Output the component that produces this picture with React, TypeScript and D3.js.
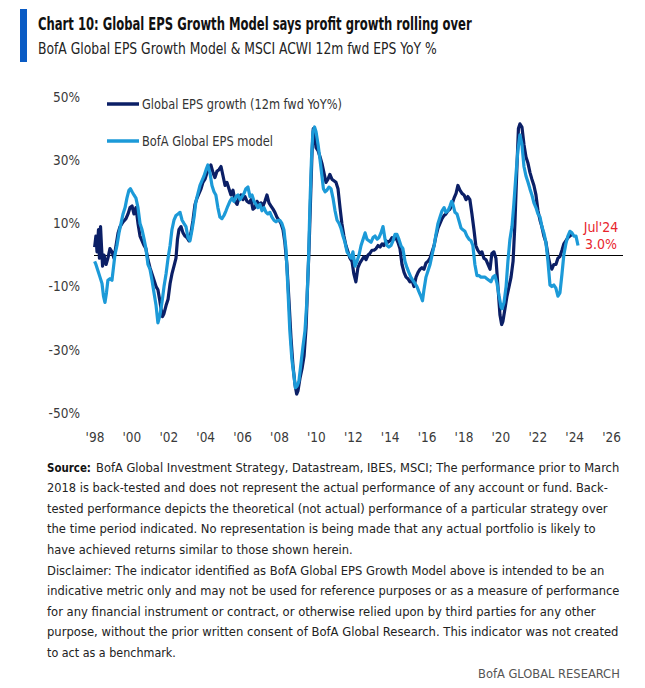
import React, { useLayoutEffect, useRef, useState } from "react";
import * as d3 from "d3";

// ---- Data ----
const epsYears = [1997.98,1998.05,1998.11,1998.19,1998.24,1998.30,1998.35,1998.41,1998.49,1998.60,1998.70,1998.81,1998.92,1999.03,1999.14,1999.25,1999.36,1999.52,1999.68,1999.79,1999.90,2000.01,2000.11,2000.22,2000.33,2000.44,2000.55,2000.66,2000.76,2000.87,2000.98,2001.09,2001.20,2001.31,2001.41,2001.50,2001.58,2001.66,2001.74,2001.85,2001.96,2002.07,2002.17,2002.28,2002.39,2002.47,2002.55,2002.66,2002.77,2002.88,2002.99,2003.09,2003.20,2003.31,2003.42,2003.53,2003.64,2003.75,2003.85,2003.96,2004.07,2004.18,2004.28,2004.40,2004.50,2004.61,2004.72,2004.83,2004.94,2005.05,2005.15,2005.26,2005.37,2005.48,2005.59,2005.70,2005.80,2005.91,2006.02,2006.13,2006.24,2006.35,2006.46,2006.56,2006.67,2006.78,2006.89,2007.00,2007.11,2007.21,2007.32,2007.43,2007.54,2007.65,2007.75,2007.86,2007.97,2008.08,2008.19,2008.29,2008.40,2008.51,2008.62,2008.73,2008.84,2008.93,2009.00,2009.11,2009.22,2009.33,2009.44,2009.52,2009.60,2009.68,2009.76,2009.83,2009.90,2009.98,2010.09,2010.20,2010.30,2010.41,2010.52,2010.63,2010.73,2010.84,2010.95,2011.06,2011.17,2011.28,2011.38,2011.49,2011.60,2011.71,2011.82,2011.93,2012.03,2012.14,2012.25,2012.36,2012.47,2012.58,2012.69,2012.80,2012.90,2013.01,2013.12,2013.23,2013.34,2013.45,2013.56,2013.66,2013.77,2013.88,2013.99,2014.10,2014.20,2014.31,2014.42,2014.53,2014.64,2014.75,2014.86,2014.96,2015.07,2015.18,2015.29,2015.40,2015.51,2015.62,2015.72,2015.83,2015.94,2016.05,2016.16,2016.27,2016.38,2016.48,2016.59,2016.70,2016.81,2016.92,2017.02,2017.13,2017.24,2017.35,2017.46,2017.57,2017.67,2017.78,2017.89,2018.00,2018.11,2018.21,2018.32,2018.43,2018.54,2018.64,2018.75,2018.86,2018.97,2019.08,2019.19,2019.30,2019.41,2019.51,2019.62,2019.73,2019.84,2019.95,2020.04,2020.11,2020.22,2020.33,2020.44,2020.55,2020.66,2020.76,2020.87,2020.95,2021.03,2021.14,2021.25,2021.36,2021.47,2021.58,2021.68,2021.79,2021.90,2022.01,2022.12,2022.22,2022.33,2022.44,2022.55,2022.66,2022.76,2022.87,2022.98,2023.09,2023.20,2023.31,2023.41,2023.52,2023.63,2023.74,2023.85];
const epsValues = [2.5,6,1,8,-1,9,3,-3.5,0,-3,-1,2,1,-1,3,7,9,10.5,11.5,13,15,15.5,13,15,10,6,4.5,3,2,-1.5,-4,-6,-8,-10,-11,-14,-17,-19.5,-18.5,-16,-14,-9,-6,-3.5,-1,5,8,9,7,6,5.5,4.5,7,11,16,18,19.5,21,23,24,26,27,28.5,26,24.5,26.5,27,28,25,22,23,21,19,20.5,17,16,18,19,17.5,18.5,17,16.5,17.5,14.5,15,17,16,16.5,15.5,17,19,16.5,15.5,14.5,13.5,12,11,10,8,4,-3,-14,-26,-35,-41,-44,-43,-39,-36,-32,-23,-10,2,17,32,40,38,34,33,31,29,26,23,24,25.5,24,23.5,23,21,15,10,6,3,1,-1,-2,-6,-8.5,-4,-2.5,-1.5,-0.5,-1.5,0,0.5,1.5,1.5,2,3,2.5,3.5,3,4.5,4,4.5,5.5,5,5.5,4,2,-3,-5.5,-7,-7.5,-8.5,-8,-10,-7,-5.5,-4.5,-4,-4.5,-2.5,-2,-1,1,3,6,8.5,10,11.5,12.5,13,14,14.5,16,18,19.5,22,20.5,19.5,19,17.5,18.5,17.5,13,8,3,1.5,0.5,1,-1,-1.5,-3,-4.5,0.5,1,-1,-10,-19,-22,-21,-17,-13,-10,-7,-2,10,28,40,41.5,40.5,35,31,29,26,24,22,19,14,11,9,6,4,0,-3,-4.5,-3,-3,-1,-0.5,1.5,3.5,4.5,5.5,6,6.5];

const modelYears = [1997.98,1998.05,1998.16,1998.27,1998.38,1998.46,1998.54,1998.62,1998.70,1998.81,1998.92,1999.00,1999.08,1999.19,1999.30,1999.41,1999.52,1999.63,1999.73,1999.84,1999.92,2000.01,2000.11,2000.22,2000.33,2000.44,2000.55,2000.66,2000.76,2000.87,2000.98,2001.09,2001.20,2001.31,2001.41,2001.52,2001.63,2001.74,2001.85,2001.96,2002.07,2002.17,2002.28,2002.39,2002.50,2002.61,2002.72,2002.82,2002.93,2003.04,2003.15,2003.26,2003.37,2003.47,2003.58,2003.69,2003.80,2003.91,2004.02,2004.12,2004.23,2004.34,2004.45,2004.55,2004.66,2004.77,2004.88,2004.99,2005.10,2005.20,2005.31,2005.42,2005.53,2005.64,2005.75,2005.86,2005.97,2006.08,2006.18,2006.29,2006.40,2006.51,2006.62,2006.73,2006.83,2006.94,2007.05,2007.16,2007.27,2007.37,2007.48,2007.59,2007.70,2007.81,2007.91,2008.02,2008.13,2008.24,2008.35,2008.45,2008.56,2008.67,2008.78,2008.86,2008.95,2009.05,2009.17,2009.27,2009.38,2009.49,2009.57,2009.65,2009.73,2009.81,2009.90,2009.98,2010.09,2010.20,2010.30,2010.38,2010.47,2010.57,2010.68,2010.79,2010.90,2011.01,2011.12,2011.23,2011.33,2011.44,2011.55,2011.66,2011.77,2011.88,2011.98,2012.09,2012.20,2012.31,2012.42,2012.53,2012.64,2012.74,2012.85,2012.96,2013.07,2013.18,2013.29,2013.39,2013.50,2013.61,2013.72,2013.83,2013.93,2014.04,2014.15,2014.26,2014.37,2014.47,2014.58,2014.69,2014.80,2014.91,2015.01,2015.12,2015.23,2015.34,2015.45,2015.55,2015.66,2015.75,2015.83,2015.94,2016.05,2016.16,2016.27,2016.38,2016.48,2016.59,2016.70,2016.81,2016.92,2017.02,2017.13,2017.24,2017.33,2017.40,2017.51,2017.62,2017.72,2017.84,2017.94,2018.05,2018.16,2018.27,2018.38,2018.48,2018.59,2018.70,2018.81,2018.92,2019.03,2019.14,2019.24,2019.35,2019.46,2019.57,2019.68,2019.79,2019.90,2020.01,2020.06,2020.17,2020.28,2020.38,2020.49,2020.60,2020.70,2020.81,2020.92,2021.03,2021.14,2021.25,2021.36,2021.47,2021.57,2021.68,2021.79,2021.90,2022.01,2022.12,2022.22,2022.33,2022.44,2022.55,2022.66,2022.76,2022.87,2022.98,2023.09,2023.20,2023.31,2023.41,2023.52,2023.63,2023.74,2023.85,2023.96,2024.07,2024.18];
const modelValues = [-2,-3,-5,-7,-9,-13,-15,-12,-8,-7.5,-8,-4,0,3,7,10,13,15,18,20.5,21,20,19,18,15,10,8,5,2,-3,-4.5,-8,-12,-16,-21.5,-19,-15,-10,-6,-1,3,8,11,12.5,13,13.5,11,10,9,5.5,4.5,8,12,17,19.5,22,23.5,25,27,28.5,26,22,20,19,15,12,11.5,12.5,14,15.5,17,18,17,18.5,19,17.5,18.5,19.5,21,21.5,18.5,19,17,16,15,16,14,15,13.5,13,13.5,12,11,10.5,11,11,10,8,2,-10,-24,-33,-38,-42,-41.5,-40,-34,-29,-24,-14,-2,16,30,39,40.5,39,35,30,25,21,20,20.5,21.5,21,18,14,11,10,8.5,6,4,1,0,-1,1,-3.5,-2,0,3,5,7,5,4.5,4,5.5,6,5,5.5,7,9,5,3,2.5,3,4.5,6.5,6.5,5,3,2,-2,-4,-5.5,-7,-8,-9,-10,-11.5,-13,-14.5,-11,-7,-5,-3,0,3,6.5,10,12,14,15,13.5,14,15.5,17,16,13.5,13,11,8.5,8,7.5,6,5,4.5,3,-3,-6.5,-6.5,-7,-7,-7,-7.5,-8,-8.5,-7,-6.5,-9,-13,-16.5,-17,-15,-10,-2,5,9,16,25,33,38,35,28,25,23,21,19,16.5,15,13,12,9,7,4,-2,-9.5,-10,-9.5,-10.5,-13,-12,-6,0,3.5,6,7.5,7,6,6,3];

const seriesNames = ["Global EPS growth (12m fwd YoY%)", "BofA Global EPS model"];
const yTickValues = [-50, -30, -10, 10, 30, 50];
const xTickYears = [1998, 2000, 2002, 2004, 2006, 2008, 2010, 2012, 2014, 2016, 2018, 2020, 2022, 2024, 2026];
const xTickLabels = ["'98", "'00", "'02", "'04", "'06", "'08", "'10", "'12", "'14", "'16", "'18", "'20", "'22", "'24", "'26"];
const lastLabel = ["Jul'24", "3.0%"];

const titleText = "Chart 10: Global EPS Growth Model says profit growth rolling over";
const subtitleText = "BofA Global EPS Growth Model & MSCI ACWI 12m fwd EPS YoY %";
const footerLines = [
  "BofA Global Investment Strategy, Datastream, IBES, MSCI; The performance prior to March",
  "2018  is back-tested and does not represent the actual performance of any account or fund. Back-",
  "tested performance depicts the theoretical (not actual) performance of a particular strategy over",
  "the time period indicated. No representation is being made that any actual portfolio is likely to",
  "have achieved returns similar to those shown herein.",
  "Disclaimer: The indicator identified as BofA Global EPS Growth Model above is intended  to be an",
  "indicative metric only and may not be used for reference purposes  or as a measure of performance",
  "for any financial instrument or contract, or otherwise relied upon by third parties for any other",
  "purpose,  without  the prior written consent  of BofA Global Research. This indicator was not created",
  "to act as a benchmark.",
];
const footerEnds = [620, 608, 608, 596, 353, 605, 620, 596, 619, 176];
const brandText = "BofA GLOBAL RESEARCH";

const FONT = "'Liberation Sans Narrow', 'Arial Narrow', 'DejaVu Sans Condensed', 'Liberation Sans', sans-serif";
const DARK = "#0b1f66";
const LIGHT = "#1c9ad8";
const RED = "#e8242c";

type FitProps = {
  x: number;
  y: number;
  width: number;
  anchor?: "start" | "end";
  fontSize: number;
  fontWeight?: string;
  fill: string;
  children: string;
};

// Text squeezed horizontally to a measured width (condensed look of the reference font)
function FitText({ x, y, width, anchor = "start", fontSize, fontWeight, fill, children }: FitProps) {
  const ref = useRef<SVGTextElement>(null);
  const [s, setS] = useState(1);
  useLayoutEffect(() => {
    if (ref.current) {
      const w = ref.current.getComputedTextLength();
      if (w > 0) setS(width / w);
    }
  }, [width, children]);
  const left = anchor === "end" ? x - width : x;
  return (
    <g transform={`translate(${left},${y}) scale(${s},1)`}>
      <text ref={ref} x={0} y={0} dy="0.35em" fontFamily={FONT} fontSize={fontSize}
        fontWeight={fontWeight} fill={fill}>{children}</text>
    </g>
  );
}

export default function App() {
  const x = d3.scaleLinear().domain([1998, 2026]).range([95, 611.6]);
  const y = d3.scaleLinear().domain([-50, 50]).range([413, 97]);

  const eps = epsYears.map((t, i) => [t, epsValues[i]] as [number, number]);
  const model = modelYears.map((t, i) => [t, modelValues[i]] as [number, number]);
  const line = d3
    .line<[number, number]>()
    .x((d) => x(d[0]))
    .y((d) => y(d[1]))
    .curve(d3.curveLinear);

  const last = model[model.length - 1];
  const zeroY = Math.round(y(0)) + 0.5;

  return (
    <div style={{ position: "absolute", left: 0, top: 0 }}>
      <svg width={645} height={688} style={{ display: "block", background: "#fff" }}>
        {/* header */}
        <rect x={20} y={9} width={7} height={53} fill="#0a5bc4" />
        <FitText x={38} y={24} width={434} fontSize={18.5} fontWeight="bold" fill="#111">{titleText}</FitText>
        <FitText x={38} y={48} width={399} fontSize={16.5} fill="#222">{subtitleText}</FitText>

        {/* y tick labels */}
        {yTickValues.map((v) => (
          <text key={v} x={80} y={y(v)} dy="0.35em" textAnchor="end" fontFamily={FONT}
            fontSize={13.5} fill="#3a3a3a">{`${v}%`}</text>
        ))}
        {/* x tick labels */}
        {xTickYears.map((t, i) => (
          <text key={t} x={x(t)} y={437} dy="0.35em" textAnchor="middle" fontFamily={FONT}
            fontSize={13.5} fill="#3a3a3a">{xTickLabels[i]}</text>
        ))}

        {/* zero line */}
        <line x1={x(1997.95)} x2={623} y1={zeroY} y2={zeroY} stroke="#000" strokeWidth={1}
          shapeRendering="crispEdges" />

        {/* series */}
        <path d={line(eps) ?? ""} fill="none" stroke={DARK} strokeWidth={3.2} strokeLinejoin="round" />
        <path d={line(model) ?? ""} fill="none" stroke={LIGHT} strokeWidth={3.2} strokeLinejoin="round" />

        {/* legend */}
        <line x1={107} x2={139} y1={104} y2={104} stroke={DARK} strokeWidth={3.5} />
        <FitText x={142} y={104} width={200} fontSize={13.5} fill="#333">{seriesNames[0]}</FitText>
        <line x1={107} x2={139} y1={141} y2={141} stroke={LIGHT} strokeWidth={3.5} />
        <FitText x={142} y={141} width={131} fontSize={13.5} fill="#333">{seriesNames[1]}</FitText>

        {/* last value annotation */}
        <text x={x(last[0]) + 23} y={227} dy="0.35em" textAnchor="middle" fontFamily={FONT}
          fontSize={14} fill={RED}>{lastLabel[0]}</text>
        <text x={x(last[0]) + 23} y={244} dy="0.35em" textAnchor="middle" fontFamily={FONT}
          fontSize={14} fill={RED}>{lastLabel[1]}</text>

        {/* footer */}
        <FitText x={47} y={467} width={44} fontSize={13} fontWeight="bold" fill="#111">Source:</FitText>
        {footerLines.map((ln, i) => {
          const startX = i === 0 ? 96 : 47;
          return (
            <FitText key={i} x={startX} y={467 + i * 20.6} width={footerEnds[i] - startX}
              fontSize={13} fill="#222">{ln}</FitText>
          );
        })}
        <FitText x={620} y={673} width={142} anchor="end" fontSize={13} fill="#555">{brandText}</FitText>
      </svg>
    </div>
  );
}
